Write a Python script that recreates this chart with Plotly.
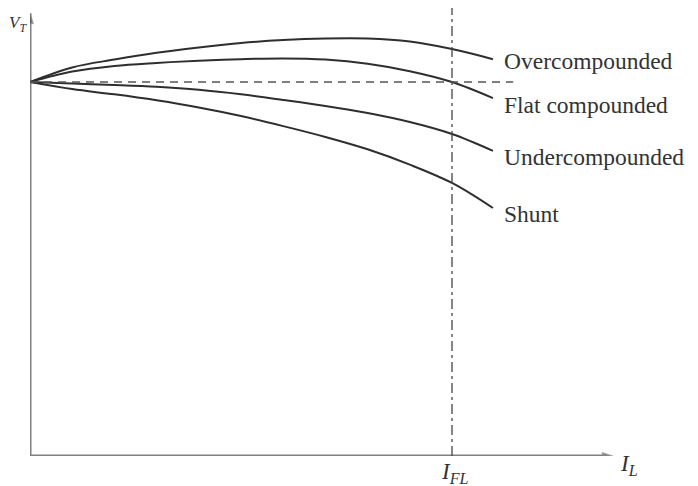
import plotly.graph_objects as go

# Load current in per unit of full-load current (I_FL = 1)
load_current = [0.0, 0.1, 0.2, 0.3, 0.4, 0.5, 0.6, 0.7, 0.8, 0.9, 1.0, 1.097]

# Terminal voltage in per unit of no-load voltage
v_over = [1.0, 1.039, 1.060, 1.078, 1.092, 1.104, 1.112, 1.116, 1.116, 1.108, 1.088, 1.061]
v_flat = [1.0, 1.028, 1.043, 1.051, 1.057, 1.061, 1.063, 1.060, 1.049, 1.029, 1.000, 0.957]
v_under = [1.0, 0.996, 0.992, 0.987, 0.979, 0.967, 0.952, 0.936, 0.917, 0.893, 0.861, 0.816]
v_shunt = [1.0, 0.981, 0.967, 0.951, 0.932, 0.909, 0.882, 0.853, 0.820, 0.779, 0.730, 0.663]

series_names = ["Overcompounded", "Flat compounded", "Undercompounded", "Shunt"]
series_values = [v_over, v_flat, v_under, v_shunt]
label_yshift = [-2, -7, -6, -6]

full_load = 1.0
no_load_voltage = 1.0
x_axis_end = 1.381
y_axis_end = 1.184
flat_line_end = 1.145

# the page body adds an 8 px margin; the figure is sized to fit the window
W, H = 690, 478
ML, MR, MT, MB = 22, 0, 0, 30
x_scale = 422.0
y_scale = 374.0
x_max = (W - ML - MR) / x_scale
y_max = (H - MT - MB) / y_scale

CURVE = "#2e2e2e"
AXIS = "#808080"
FONT = "Liberation Serif"
TXT = "#333"

fig = go.Figure()

# axes drawn as arrowed lines
fig.add_trace(go.Scatter(
    x=[0, x_axis_end], y=[0, 0], mode="lines+markers",
    line=dict(color=AXIS, width=3),
    marker=dict(symbol="arrow", angleref="previous", size=[0, 11], color="#555"),
    hoverinfo="skip", showlegend=False))
fig.add_trace(go.Scatter(
    x=[0, 0], y=[0, y_axis_end], mode="lines+markers",
    line=dict(color=AXIS, width=3),
    marker=dict(symbol="arrow", angleref="previous", size=[0, 11], color="#555"),
    hoverinfo="skip", showlegend=False))

for name, vals in zip(series_names, series_values):
    fig.add_trace(go.Scatter(
        x=load_current, y=vals, mode="lines", name=name,
        line=dict(color=CURVE, width=2, shape="spline", smoothing=1.0),
        hoverinfo="skip", showlegend=False))

shapes = [
    # reference line at no-load voltage
    dict(type="line", xref="x", yref="y", x0=0, x1=flat_line_end,
         y0=no_load_voltage, y1=no_load_voltage,
         line=dict(color="#555", width=1.5, dash="8px,6px")),
    # full-load current line
    dict(type="line", xref="x", yref="paper", x0=full_load, x1=full_load,
         y0=0, y1=1, line=dict(color="#444", width=1.3, dash="10px,4px,3px,4px")),
]

annotations = []
for name, vals, ys in zip(series_names, series_values, label_yshift):
    annotations.append(dict(x=load_current[-1], y=vals[-1], xref="x", yref="y",
                            text=name, showarrow=False, xanchor="left",
                            yanchor="middle", xshift=9, yshift=ys,
                            font=dict(family=FONT, size=23.5, color=TXT)))

annotations.append(dict(x=full_load, y=0, xref="x", yref="y",
                        text="<i>I<sub>FL</sub></i>", showarrow=False,
                        xanchor="center", yanchor="middle", yshift=-17, xshift=3,
                        font=dict(family=FONT, size=23, color=TXT)))
annotations.append(dict(x=x_axis_end, y=0, xref="x", yref="y",
                        text="<i>I<sub>L</sub></i>", showarrow=False,
                        xanchor="left", yanchor="middle", xshift=5, yshift=-9,
                        font=dict(family=FONT, size=23, color=TXT)))
annotations.append(dict(x=0, y=1, xref="x", yref="paper",
                        text="<i>V<sub>T</sub></i>", showarrow=False,
                        xanchor="right", yanchor="top", xshift=-1, yshift=-3,
                        font=dict(family=FONT, size=17, color=TXT)))

fig.update_layout(
    width=W, height=H,
    margin=dict(l=ML, r=MR, t=MT, b=MB),
    paper_bgcolor="white", plot_bgcolor="white",
    xaxis=dict(range=[0, x_max], visible=False, fixedrange=True),
    yaxis=dict(range=[0, y_max], visible=False, fixedrange=True),
    shapes=shapes, annotations=annotations,
)

fig.write_html("out.html")
